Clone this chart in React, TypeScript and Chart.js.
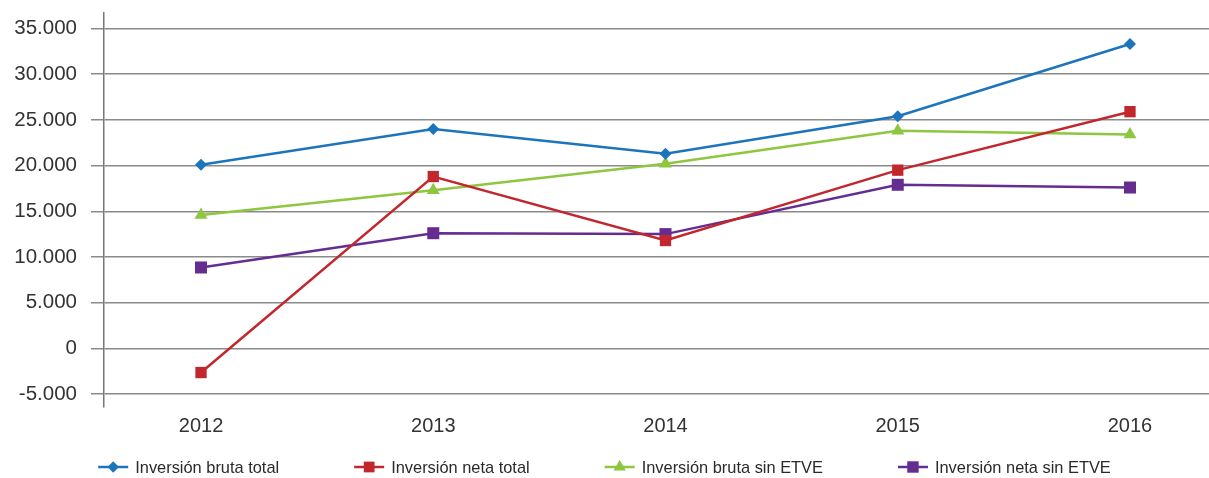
import React, { useEffect, useRef } from "react";
import { Chart, registerables } from "chart.js";
import { drawPoint } from "chart.js/helpers";

Chart.register(...registerables);

const years = [2012, 2013, 2014, 2015, 2016];
const yTicks = [-5000, 0, 5000, 10000, 15000, 20000, 25000, 30000, 35000];

const brutaTotal = [20100, 24000, 21300, 25400, 33300];
const netaTotal = [-2650, 18800, 11800, 19500, 25900];
const brutaSinEtve = [14600, 17300, 20200, 23800, 23400];
const netaSinEtve = [8850, 12600, 12500, 17900, 17600];

const seriesNames = [
  "Inversión bruta total",
  "Inversión neta total",
  "Inversión bruta sin ETVE",
  "Inversión neta sin ETVE",
];

const FONT = '"Liberation Sans", Arial, Helvetica, sans-serif';

function fmt(v: number): string {
  const s = String(Math.abs(v)).replace(/\B(?=(\d{3})+(?!\d))/g, ".");
  return v < 0 ? "-" + s : s;
}

const lineLegend = {
  id: "lineLegend",
  afterDraw(chart: any) {
    const ctx = chart.ctx;
    ctx.save();
    ctx.font = `16.4px ${FONT}`;
    ctx.textBaseline = "middle";
    const lineLen = 30;
    const gapText = 7;
    const gap = 75;
    const dss = chart.data.datasets;
    const widths = dss.map(
      (ds: any) => lineLen + gapText + ctx.measureText(ds.label).width
    );
    const total =
      widths.reduce((a: number, b: number) => a + b, 0) + gap * (dss.length - 1);
    let x = (chart.width - total) / 2;
    const y = 467;
    dss.forEach((ds: any, i: number) => {
      ctx.strokeStyle = ds.borderColor;
      ctx.lineWidth = 2.5;
      ctx.beginPath();
      ctx.moveTo(x, y);
      ctx.lineTo(x + lineLen, y);
      ctx.stroke();
      ctx.fillStyle = ds.borderColor;
      drawPoint(
        ctx,
        {
          pointStyle: ds.pointStyle,
          radius: ds.pointRadius * 0.95,
          rotation: 0,
          borderWidth: 0,
        } as any,
        x + lineLen / 2,
        y
      );
      ctx.fillStyle = "#2a2a2a";
      ctx.textAlign = "left";
      ctx.fillText(ds.label, x + lineLen + gapText, y + 1);
      x += widths[i] + gap;
    });
    ctx.restore();
  },
};

export default function App() {
  const ref = useRef<HTMLCanvasElement | null>(null);

  useEffect(() => {
    if (!ref.current) return;
    const mk = (
      label: string,
      values: number[],
      color: string,
      style: string,
      radius: number
    ) => ({
      label,
      data: values.map((v, i) => ({ x: years[i], y: v })),
      borderColor: color,
      backgroundColor: color,
      pointBackgroundColor: color,
      pointBorderColor: color,
      pointBorderWidth: 0,
      pointStyle: style,
      pointRadius: radius,
      borderWidth: 2.5,
      tension: 0,
      clip: false,
    });

    const chart = new Chart(ref.current, {
      type: "line",
      data: {
        datasets: [
          mk(seriesNames[0], brutaTotal, "#1c75bc", "rectRot", 6),
          mk(seriesNames[1], netaTotal, "#c1272d", "rect", 8),
          mk(seriesNames[2], brutaSinEtve, "#8dc63f", "triangle", 7.5),
          mk(seriesNames[3], netaSinEtve, "#662d91", "rect", 8.5),
        ] as any,
      },
      options: {
        animation: false,
        responsive: true,
        maintainAspectRatio: false,
        layout: {
          autoPadding: false,
          padding: { top: 13, right: 0, left: 0, bottom: 43 },
        },
        plugins: {
          legend: { display: false },
          tooltip: { enabled: false },
        },
        scales: {
          x: {
            type: "linear",
            min: 2011.5823,
            max: 2016.3402,
            afterBuildTicks: (axis: any) => {
              axis.ticks = years.map((v) => ({ value: v }));
            },
            afterFit: (scale: any) => {
              scale.height = 28;
              scale.paddingLeft = 0;
              scale.paddingRight = 0;
            },
            grid: { display: false, drawTicks: false },
            border: { display: false },
            ticks: {
              padding: 7,
              autoSkip: false,
              maxRotation: 0,
              color: "#333333",
              font: { family: FONT, size: 20 },
              callback: (v: any) => String(v),
            },
          },
          y: {
            min: -6420,
            max: 36700,
            afterBuildTicks: (axis: any) => {
              axis.ticks = yTicks.map((v) => ({ value: v }));
            },
            afterFit: (scale: any) => {
              scale.width = 104;
              scale.paddingTop = 0;
              scale.paddingBottom = 0;
            },
            grid: {
              color: "#8a8a8a",
              lineWidth: 1.5,
              tickLength: 13,
              drawTicks: true,
            },
            border: { display: true, color: "#777777", width: 1.5 },
            ticks: {
              padding: 14,
              color: "#333333",
              font: { family: FONT, size: 20.5 },
              callback: (v: any) => fmt(Number(v)),
            },
          },
        },
      },
      plugins: [lineLegend],
    });
    return () => chart.destroy();
  }, []);

  return (
    <div
      style={{
        position: "fixed",
        left: 0,
        top: 0,
        width: 1209,
        height: 478,
        background: "#ffffff",
      }}
    >
      <canvas ref={ref} />
    </div>
  );
}
